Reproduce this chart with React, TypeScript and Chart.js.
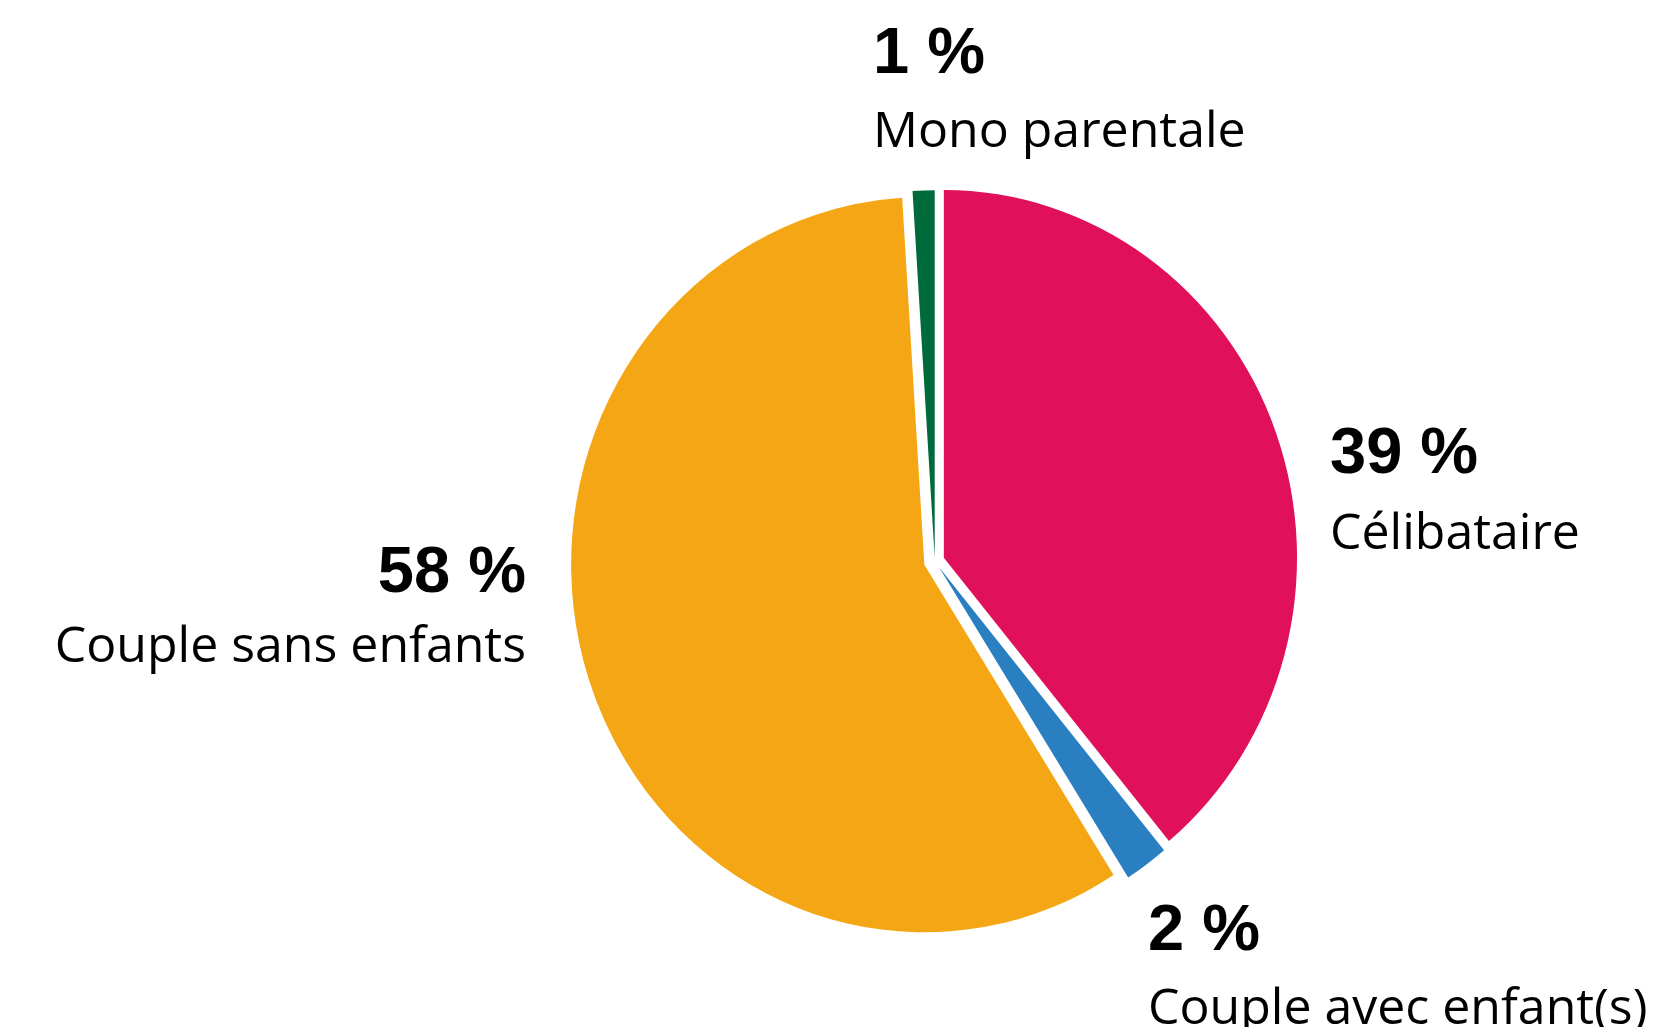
import React, { useEffect, useRef } from "react";
import { Chart, registerables } from "chart.js";

Chart.register(...registerables);

// ---- data ----
const CATEGORIES = ["Célibataire", "Couple avec enfant(s)", "Couple sans enfants", "Mono parentale"];
const VALUES = [39, 2, 58, 1];
const VALUE_LABELS = ["39 %", "2 %", "58 %", "1 %"];
const COLORS = ["#E1105A", "#2A7FC1", "#F4A614", "#006B3A"];

// ---- layout / style (not data) ----
const W = 1671;
const H = 1027;
const CX = 934.8;
const CY = 561.1;
const RADIUS = 353.2;
const Y_SCALE = 1.041;
const EXPLODE = [9.6, 7, 11, 3];
const LABEL_LAYOUT = [
  { x: 1330, yValue: 473, yName: 549, align: "left" },
  { x: 1148, yValue: 950, yName: 1024, align: "left" },
  { x: 526, yValue: 592, yName: 662, align: "right" },
  { x: 873, yValue: 73, yName: 147, align: "left" },
];
const VALUE_FONT = 'bold 65px "Liberation Sans"';
const NAME_FONT = '50px "Open Sans"';

const explodePlugin = {
  id: "explodeEllipse",
  beforeDatasetsDraw(chart: any) {
    const ctx = chart.ctx;
    const meta = chart.getDatasetMeta(0);
    meta.data.forEach((el: any, i: number) => {
      const mid = (el.startAngle + el.endAngle) / 2;
      const d = EXPLODE[i] || 0;
      el.x = CX + Math.cos(mid) * d;
      el.y = CY + Math.sin(mid) * d;
    });
    ctx.save();
    ctx.translate(CX, CY);
    ctx.scale(1, Y_SCALE);
    ctx.translate(-CX, -CY);
  },
  afterDatasetsDraw(chart: any) {
    chart.ctx.restore();
  },
};

const labelPlugin = {
  id: "sliceLabels",
  afterDraw(chart: any) {
    const ctx = chart.ctx;
    ctx.save();
    ctx.fillStyle = "#000000";
    ctx.textBaseline = "alphabetic";
    CATEGORIES.forEach((name, i) => {
      const p = LABEL_LAYOUT[i];
      ctx.textAlign = p.align;
      ctx.font = VALUE_FONT;
      ctx.fillText(VALUE_LABELS[i], p.x, p.yValue);
      ctx.font = NAME_FONT;
      ctx.fillText(name, p.x, p.yName);
    });
    ctx.restore();
  },
};

export default function App() {
  const canvasRef = useRef<HTMLCanvasElement | null>(null);

  useEffect(() => {
    document.body.style.margin = "0";
    const canvas = canvasRef.current;
    if (!canvas) return;
    const chart = new Chart(canvas, {
      type: "pie",
      data: {
        labels: CATEGORIES,
        datasets: [
          {
            data: VALUES,
            backgroundColor: COLORS,
            borderWidth: 0,
            clip: false,
          } as any,
        ],
      },
      options: {
        animation: false,
        responsive: false,
        devicePixelRatio: 1,
        radius: RADIUS,
        rotation: 0,
        layout: {
          padding: {
            left: CX - 400,
            right: W - CX - 400,
            top: CY - 400,
            bottom: H - CY - 400,
          },
        },
        plugins: {
          legend: { display: false },
          tooltip: { enabled: false },
        },
        events: [],
      } as any,
      plugins: [explodePlugin, labelPlugin],
    });
    return () => chart.destroy();
  }, []);

  return (
    <div style={{ position: "fixed", left: 0, top: 0, width: W, height: H, background: "#fff" }}>
      <canvas ref={canvasRef} width={W} height={H} style={{ width: W, height: H, display: "block" }} />
    </div>
  );
}
